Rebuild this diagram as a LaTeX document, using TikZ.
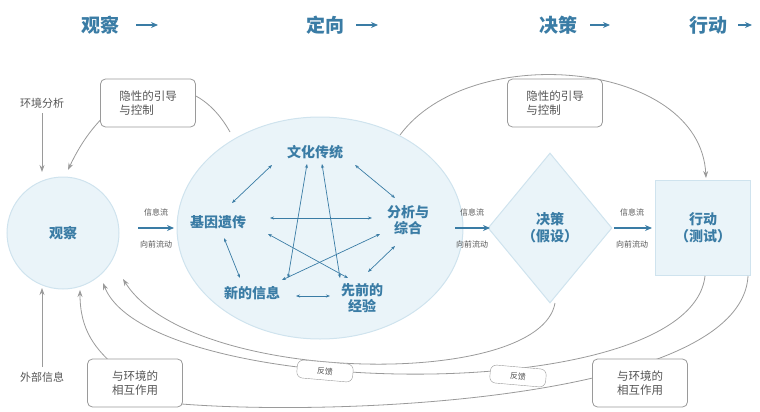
\documentclass[tikz,border=0pt]{standalone}
\usepackage{fontspec}
\setmainfont{Noto Sans CJK SC}
\usetikzlibrary{shapes.geometric,arrows.meta}
\definecolor{hb}{HTML}{3A7CA5}
\definecolor{lf}{HTML}{EAF4F9}
\definecolor{lb}{HTML}{CFE3EE}
\definecolor{gl}{HTML}{9A9A9A}
\definecolor{gt}{HTML}{555555}
\tikzset{
 hdr/.style={text=hb,font=\fontsize{19}{19}\selectfont\bfseries},
 inner/.style={text=hb,font=\fontsize{14}{16}\selectfont\bfseries,align=center},
 gbox/.style={draw=gl,rounded corners=5pt,fill=white,text=gt,font=\fontsize{11.5}{14}\selectfont,align=left,minimum width=95pt,minimum height=48pt,line width=0.8pt},
 fb/.style={draw=gl,rounded corners=6pt,fill=white,text=gt,font=\fontsize{8}{9}\selectfont,minimum width=56pt,minimum height=18pt,rotate=-5},
 gline/.style={draw=gl,line width=0.8pt},
 garr/.style={gline,-{Stealth[length=7pt,width=5pt]}},
 barr/.style={draw=hb,line width=1.3pt,-{Stealth[length=7pt,width=6pt]}},
 sarr/.style={draw=hb,line width=0.7pt,{Stealth[length=4pt,width=3pt]}-{Stealth[length=4pt,width=3pt]}},
 small/.style={text=gt,font=\fontsize{8}{8}\selectfont},
 side/.style={text=gt,font=\fontsize{11}{11}\selectfont},
}
\begin{document}
\begin{tikzpicture}[x=1pt,y=-1pt]
\useasboundingbox (0,0) rectangle (760,412);
% headers
\node[hdr] (h1) at (100,25) {观察};
\node[hdr] (h2) at (325,25) {定向};
\node[hdr] (h3) at (558,25) {决策};
\node[hdr] (h4) at (708,25) {行动};
\coordinate (a1) at (158,25); \draw[barr] (136,25) -- (a1);
\coordinate (a2) at (378,25); \draw[barr] (356,25) -- (a2);
\coordinate (a3) at (610,25); \draw[barr] (590,25) -- (a3);
\coordinate (a4) at (752,25); \draw[barr] (738,25) -- (a4);
% main shapes
\node[circle,draw=lb,fill=lf,line width=1pt,minimum size=112pt,text=hb,font=\fontsize{14}{14}\selectfont\bfseries] (obs) at (63,233) {观察};
\node[ellipse,draw=lb,fill=lf,line width=1pt,minimum width=286pt,minimum height=222pt] (ori) at (320,228) {};
\node[diamond,draw=lb,fill=lf,line width=1pt,minimum width=124pt,minimum height=150pt,inner sep=0pt,text=hb,font=\fontsize{14}{17}\selectfont\bfseries,align=center] (dec) at (550,228) {决策\\（假设）};
\node[draw=lb,fill=lf,line width=1pt,minimum width=95pt,minimum height=95pt,text=hb,font=\fontsize{14}{17}\selectfont\bfseries,align=center] (act) at (703,228) {行动\\（测试）};
% inner items
\node[inner] (c1) at (315,152) {文化传统};
\node[inner] (c2) at (218,222) {基因遗传};
\node[inner] (c3) at (408,220) {分析与\\综合};
\node[inner] (c4) at (252,293) {新的信息};
\node[inner] (c5) at (362,298) {先前的\\经验};
\draw[sarr] (272,165) -- (232,203);
\draw[sarr] (355,165) -- (395,198);
\draw[sarr] (270,218) -- (372,218);
\draw[sarr] (224,238) -- (240,278);
\draw[sarr] (395,246) -- (368,272);
\draw[sarr] (296,296) -- (330,296);
\draw[sarr] (307,164) -- (288,278);
\draw[sarr] (322,164) -- (340,278);
\draw[sarr] (268,234) -- (348,278);
\draw[sarr] (380,234) -- (282,280);
% forward flows
\draw[barr] (138,228) -- (174,228);
\draw[barr] (455,228) -- (490,228);
\draw[barr] (614,228) -- (652,228);
\node[small] (f1) at (156,212) {信息流}; \node[small] (g1) at (156,244) {向前流动};
\node[small] (f2) at (472,212) {信息流}; \node[small] (g2) at (472,244) {向前流动};
\node[small] (f3) at (632,212) {信息流}; \node[small] (g3) at (632,244) {向前流动};
% side inputs
\node[side] (env) at (42,103) {环境分析};
\node[side] (ext) at (42,377) {外部信息};
\draw[garr] (42,113) -- (42,172);
\draw[garr] (42,367) -- (42,288);
% top curves
\coordinate (t1) at (230,132);
\draw[garr] (t1) .. controls (190,60) and (110,80) .. (68,170);
\node[gbox] (b1) at (148,103) {隐性的引导\\与控制};
\coordinate (t2) at (400,135);
\draw[garr] (t2) .. controls (470,40) and (700,60) .. (706,178);
\node[gbox] (b2) at (555,103) {隐性的引导\\与控制};
% feedback curves
\coordinate (d1) at (555,303);
\coordinate (d2) at (705,276);
\coordinate (d3) at (748,276);
\draw[garr] (d1) .. controls (540,390) and (190,385) .. (123,279);
\draw[garr] (d2) .. controls (690,410) and (150,400) .. (103,283);
\draw[gline] (d3) .. controls (740,420) and (200,420) .. (120,395);
\draw[garr] (120,370) .. controls (95,350) and (80,330) .. (80,290);
\node[fb] (fb1) at (325,371) {反馈};
\node[fb] (fb2) at (518,376) {反馈};
\node[gbox] (b3) at (135,383) {与环境的\\相互作用};
\node[gbox] (b4) at (640,383) {与环境的\\相互作用};
\end{tikzpicture}
\end{document}
